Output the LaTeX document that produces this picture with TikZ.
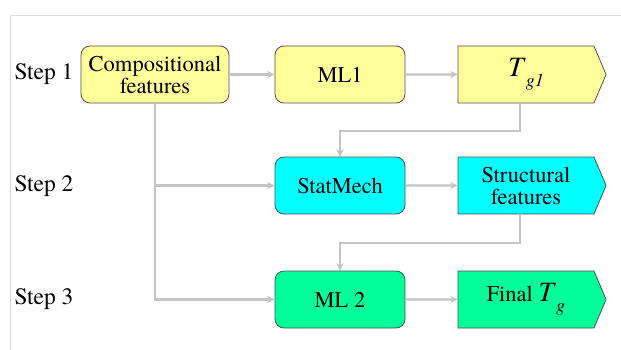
\documentclass[tikz,border=0pt]{standalone}
\usepackage{fontspec}
\IfFontExistsTF{texgyretermes-regular.otf}{%
  \setmainfont{texgyretermes}[Extension=.otf, UprightFont=*-regular, ItalicFont=*-italic, BoldFont=*-bold]%
}{%
  \setmainfont{Liberation Serif}%
}
\usetikzlibrary{shapes.symbols,arrows.meta,calc}
\definecolor{boxyellow}{HTML}{FFFF99}
\definecolor{boxcyan}{HTML}{00FFFF}
\definecolor{boxgreen}{HTML}{00FF99}
\definecolor{conn}{HTML}{C4C4C4}
\definecolor{frame}{HTML}{DCDCDC}
\definecolor{edge}{HTML}{505050}
\tikzset{
  x=1pt, y=-1pt,
  boxtext/.style={font=\fontsize{22.5}{22}\selectfont, align=center, text=black},
  procbox/.style={boxtext, draw=edge, line width=0.8pt, rounded corners=9pt,
    minimum height=57pt, inner sep=2pt},
  flagbox/.style={boxtext, draw=edge, line width=0.8pt, shape=signal, signal to=east,
    signal pointer angle=134, minimum width=148pt, minimum height=57pt, inner sep=2pt},
  steplabel/.style={font=\fontsize{23.5}{24}\selectfont, text=black},
  arr/.style={draw=conn, line width=2.2pt, -{Stealth[length=7.5pt,width=7.5pt]}},
}
\newcommand{\Tsub}[1]{\textit{T}\raisebox{-0.35em}{\fontsize{18}{18}\selectfont\textit{#1}}}
\begin{document}
\begin{tikzpicture}
\useasboundingbox (0,0) rectangle (621,350);
\fill[white] (0,0) rectangle (621,350);
\draw[frame, line width=1pt] (10,350) -- (10,16) -- (621,16);

% step labels
\node[steplabel] (s1) at (44,74.5) {Step 1};
\node[steplabel] (s2) at (44,186) {Step 2};
\node[steplabel] (s3) at (44,299) {Step 3};

% row 1
\node[procbox, fill=boxyellow, minimum width=148pt] (comp) at (155,74.5) {Compositional\\features};
\node[procbox, fill=boxyellow, minimum width=130pt] (ml1) at (340,74.5) {ML1};
\node[flagbox, fill=boxyellow] (tg1) at (526,74.5) {\fontsize{28}{28}\selectfont\Tsub{g1}};

% row 2
\node[procbox, fill=boxcyan, minimum width=130pt] (sm) at (340,185.5) {StatMech};
\node[flagbox, fill=boxcyan] (sf) at (526,185.5) {Structural\\features};

% row 3
\node[procbox, fill=boxgreen, minimum width=130pt] (ml2) at (340,299.5) {ML 2};
\node[flagbox, fill=boxgreen] (fin) at (526,299.5) {Final {\fontsize{28}{28}\selectfont\Tsub{g}}};

% connectors
\draw[arr] (comp) -- (ml1);
\draw[arr] (ml1) -- (tg1);
\draw[arr] (sm) -- (sf);
\draw[arr] (ml2) -- (fin);

\draw[arr] ([xshift=-6pt]tg1.south) -- ++(0,28) -| (sm.north);
\draw[arr] ([xshift=-6pt]sf.south) -- ++(0,28.5) -| (ml2.north);

\coordinate (br) at (comp.south |- sm.west);
\draw[arr] (comp.south) |- (ml2.west);
\draw[arr] (br) -- (sm.west);
\end{tikzpicture}
\end{document}
